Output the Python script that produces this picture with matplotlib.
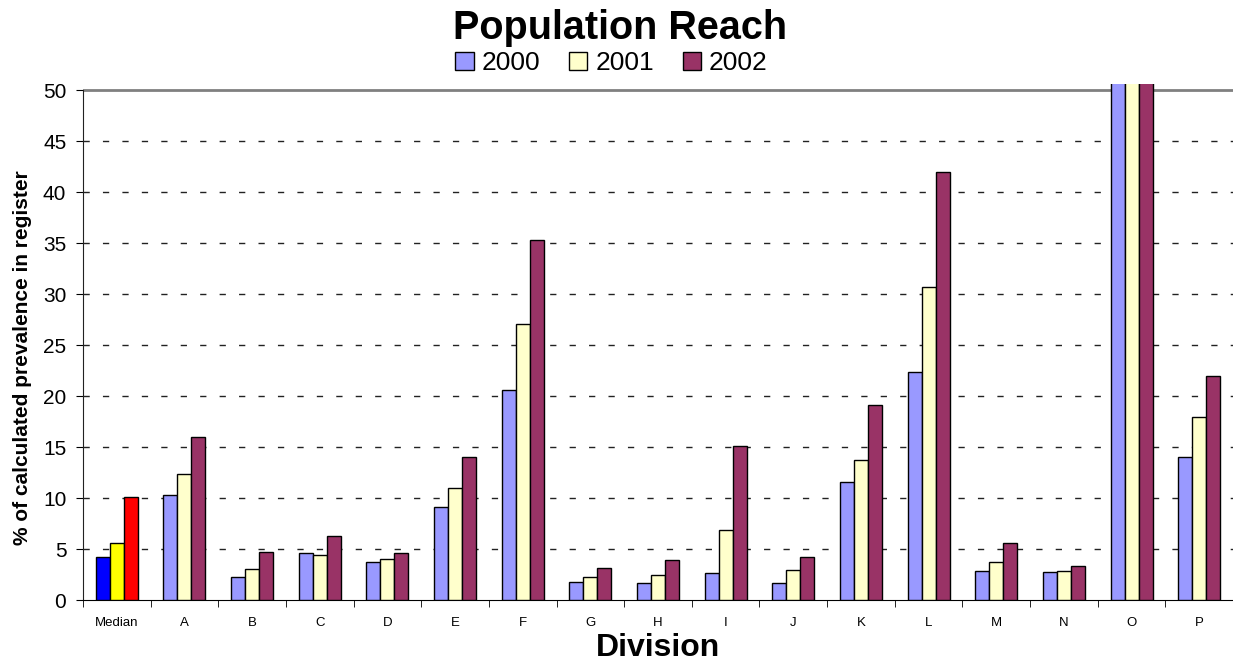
import matplotlib
matplotlib.use("Agg")
import matplotlib.pyplot as plt
import numpy as np
from matplotlib.patches import Patch

plt.rcParams['font.family'] = ['Liberation Sans', 'DejaVu Sans']

categories = ["Median", "A", "B", "C", "D", "E", "F", "G", "H", "I", "J", "K", "L", "M", "N", "O", "P"]
years = ["2000", "2001", "2002"]
v2000 = [4.2, 10.3, 2.3, 4.6, 3.7, 9.15, 20.6, 1.8, 1.7, 2.65, 1.7, 11.6, 22.35, 2.8, 2.7, 55, 14.0]
v2001 = [5.6, 12.4, 3.0, 4.4, 4.0, 11.0, 27.1, 2.25, 2.5, 6.9, 2.9, 13.75, 30.7, 3.7, 2.85, 55, 17.9]
v2002 = [10.1, 16.0, 4.7, 6.3, 4.6, 14.0, 35.3, 3.1, 3.9, 15.1, 4.2, 19.1, 42.0, 5.6, 3.3, 55, 22.0]
yticks = [0, 5, 10, 15, 20, 25, 30, 35, 40, 45, 50]

series_colors = ["#9999FF", "#FFFFCC", "#993366"]
median_colors = ["#0000FF", "#FFFF00", "#FF0000"]

fig = plt.figure(figsize=(12.33, 6.63), dpi=100)
ax = fig.add_axes([83/1233, 1-600/663, 1 - 83/1233, (600-84)/663])

x = np.arange(len(categories))
w = 0.207
for i, vals in enumerate([v2000, v2001, v2002]):
    cols = [median_colors[i]] + [series_colors[i]] * (len(categories) - 1)
    ax.bar(x + (i - 1) * w, vals, width=w, color=cols, edgecolor="black", linewidth=1, zorder=3)

ax.set_xlim(-0.5, len(categories) - 0.5)
ax.set_ylim(0, 50.6)
ax.set_yticks(yticks)
ax.set_yticklabels([str(t) for t in yticks], fontsize=15)
for t in yticks[1:-1]:
    ax.axhline(t, color="#222222", linewidth=1, linestyle=(0, (4.5, 9.5)), zorder=1)
ax.axhline(50, color="#808080", linewidth=2, zorder=2)

ax.set_xticks(x)
ax.set_xticklabels(categories, fontsize=9.5)
ax.tick_params(axis='x', length=0, pad=12)
ax.set_xticks(np.arange(-0.5, len(categories)), minor=True)
ax.tick_params(axis='x', which='minor', length=5, direction='out', color='black')
ax.tick_params(axis='y', length=5, direction='out', pad=7)

for s in ["top", "right"]:
    ax.spines[s].set_visible(False)
ax.spines["left"].set_color("#222222")
ax.spines["left"].set_bounds(0, 50)
ax.spines["bottom"].set_color("black")

ax.set_ylabel("% of calculated prevalence in register", fontsize=15, fontweight="bold")
ax.yaxis.set_label_coords(-0.0445, 0.47)
ax.set_xlabel("Division", fontsize=23, fontweight="bold", labelpad=3)

fig.text(0.503, 1 - 28/663, "Population Reach", ha="center", va="center", fontsize=28.5, fontweight="bold")

handles = [Patch(facecolor=c, edgecolor="black", linewidth=1) for c in series_colors]
fig.legend(handles, years, loc="center", bbox_to_anchor=(0.496, 1 - 63/663), ncol=3, frameon=False,
           fontsize=19, handlelength=0.7, handleheight=0.7, handletextpad=0.3, columnspacing=1.08)

fig.savefig("out.png", dpi=100)
